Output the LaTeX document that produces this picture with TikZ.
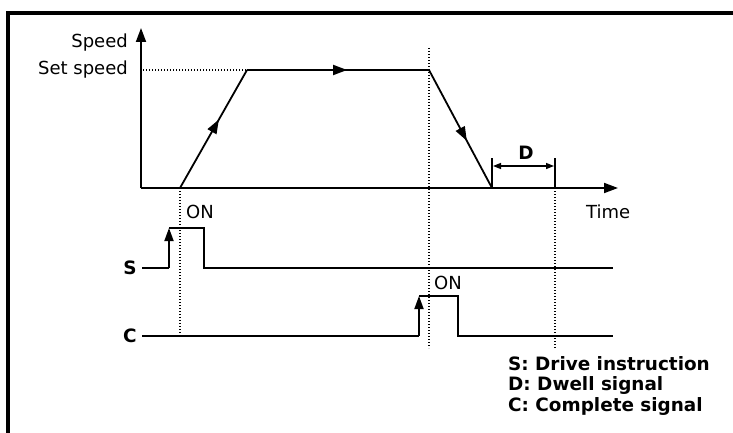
\documentclass[tikz,border=0pt]{standalone}
\usepackage{fontspec}
\setmainfont{DejaVu Sans}
\usetikzlibrary{arrows.meta,decorations.markings}
\begin{document}
\begin{tikzpicture}[x=1pt,y=-1pt,
 sig/.style={line width=1.8pt},
 dots/.style={line width=1.3pt,dash pattern=on 1.4pt off 1.6pt},
 bigtip/.style={-{Triangle[length=14pt,width=10pt]}},
 edgetip/.style={-{Triangle[length=13pt,width=9pt]}},
 dimtips/.style={{Triangle[length=8pt,width=6pt]}-{Triangle[length=8pt,width=6pt]}},
 lbl/.style={font=\fontsize{18}{20}\selectfont, inner sep=0pt},
 blbl/.style={font=\fontsize{18.4}{21}\selectfont\bfseries, inner sep=0pt},
 midarrow/.style={postaction={decorate},decoration={markings,mark=at position #1 with {\arrow{Triangle[length=14pt,width=10pt]}}}}
]
\useasboundingbox (0,0) rectangle (733,433);
% frame
\coordinate (FB) at (8,433);
\coordinate (FC) at (8,13);
\coordinate (FR) at (733,13);
\draw[line width=4pt] (FB) -- (FC) -- (FR);
% axes
\coordinate (O) at (141,188);
\coordinate (Ytop) at (141,28);
\coordinate (Xend) at (618,188);
\draw[sig,bigtip] (O) -- (Ytop);
\draw[sig,bigtip] (O) -- (Xend);
% speed profile
\coordinate (A) at (180,188);
\coordinate (B) at (247,70);
\coordinate (Cc) at (429,70);
\coordinate (Dd) at (492,188);
\coordinate (E) at (555,188);
\draw[sig,midarrow=0.58] (A) -- (B);
\draw[sig,midarrow=0.55] (B) -- (Cc);
\draw[sig,midarrow=0.6] (Cc) -- (Dd);
% dotted guides
\coordinate (SS) at (143,70);
\draw[dots] (SS) -- (B);
\coordinate (V1t) at (429,48);
\coordinate (V1b) at (429,348);
\draw[dots] (V1t) -- (V1b);
\coordinate (V0b) at (180,335);
\draw[dots] (A) -- (V0b);
\coordinate (V2b) at (555,348);
\draw[dots] (E) -- (V2b);
% dwell
\coordinate (Dt1) at (492,158);
\coordinate (Dt2) at (555,158);
\draw[sig] (Dd) -- (Dt1);
\draw[sig] (E) -- (Dt2);
\coordinate (Da) at (493,166);
\coordinate (Db) at (554,166);
\draw[line width=1.4pt,dimtips] (Da) -- (Db);
\node[blbl] (Dlab) at (526,153) {D};
% labels
\node[lbl,anchor=east] (speed) at (128,43) {Speed};
\node[lbl,anchor=east] (setspeed) at (128,70) {Set speed};
\node[lbl,anchor=west] (time) at (586,212) {Time};
\node[lbl,anchor=west] (on1) at (186,212) {ON};
\node[lbl,anchor=west] (on2) at (434,283) {ON};
% S signal
\node[blbl] (Slab) at (130,268) {S};
\coordinate (S0) at (142,268);
\coordinate (S1) at (169,268);
\coordinate (S2) at (169,228);
\coordinate (S3) at (204,228);
\coordinate (S4) at (204,268);
\coordinate (S5) at (613,268);
\draw[sig] (S0) -- (S1);
\draw[sig,edgetip] (S1) -- (S2);
\draw[sig] (S2) -- (S3) -- (S4) -- (S5);
% C signal
\node[blbl] (Clab) at (130,336) {C};
\coordinate (C0) at (142,336);
\coordinate (C1) at (419,336);
\coordinate (C2) at (419,296);
\coordinate (C3) at (458,296);
\coordinate (C4) at (458,336);
\coordinate (C5) at (613,336);
\draw[sig] (C0) -- (C1);
\draw[sig,edgetip] (C1) -- (C2);
\draw[sig] (C2) -- (C3) -- (C4) -- (C5);
% legend
\node[blbl,anchor=west] (L1) at (508,364) {S: Drive instruction};
\node[blbl,anchor=west] (L2) at (508,385) {D: Dwell signal};
\node[blbl,anchor=west] (L3) at (508,406) {C: Complete signal};
\end{tikzpicture}
\end{document}
